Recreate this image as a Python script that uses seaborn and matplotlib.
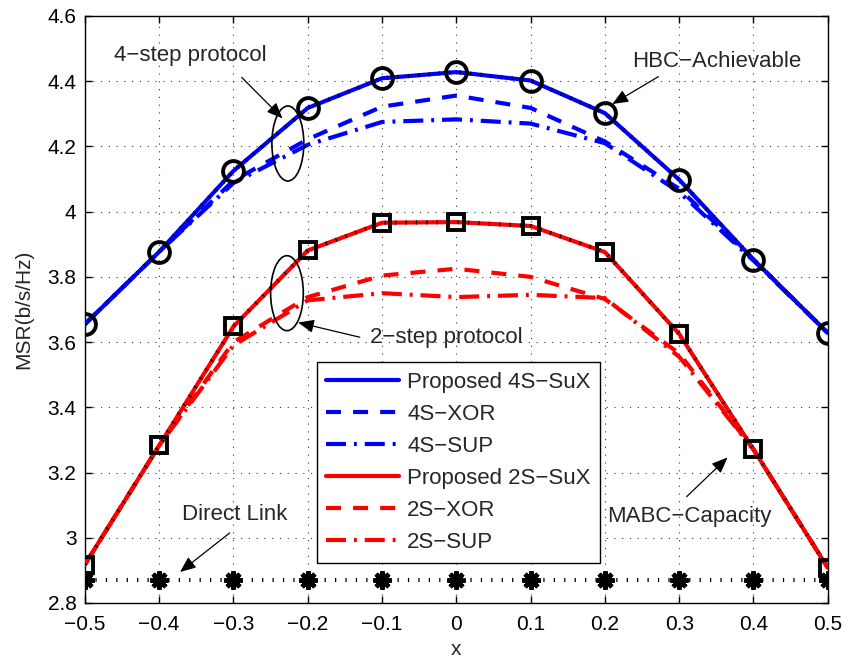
import numpy as np
import pandas as pd
import matplotlib
matplotlib.use("Agg")
import matplotlib.pyplot as plt
from matplotlib.patches import Ellipse
import seaborn as sns

# ---- data -------------------------------------------------------------
x_vals = [-0.5, -0.4, -0.3, -0.2, -0.1, 0.0, 0.1, 0.2, 0.3, 0.4, 0.5]

msr_4s_sux = [3.655, 3.877, 4.125, 4.318, 4.409, 4.428, 4.402, 4.302, 4.098, 3.853, 3.628]
msr_4s_xor = [3.655, 3.877, 4.095, 4.222, 4.322, 4.356, 4.318, 4.215, 4.070, 3.853, 3.628]
msr_4s_sup = [3.655, 3.877, 4.088, 4.205, 4.275, 4.283, 4.270, 4.210, 4.060, 3.850, 3.628]

msr_2s_sux = [2.918, 3.283, 3.648, 3.881, 3.966, 3.968, 3.956, 3.876, 3.625, 3.271, 2.908]
msr_2s_xor = [2.918, 3.283, 3.600, 3.738, 3.804, 3.825, 3.800, 3.732, 3.565, 3.271, 2.908]
msr_2s_sup = [2.918, 3.283, 3.590, 3.728, 3.750, 3.738, 3.745, 3.735, 3.555, 3.271, 2.908]

hbc_achievable = [3.655, 3.877, 4.125, 4.318, 4.409, 4.428, 4.402, 4.302, 4.098, 3.853, 3.628]
mabc_capacity = [2.918, 3.283, 3.648, 3.881, 3.966, 3.968, 3.956, 3.876, 3.625, 3.271, 2.908]
direct_link = [2.871] * 11

x_ticks = [-0.5, -0.4, -0.3, -0.2, -0.1, 0.0, 0.1, 0.2, 0.3, 0.4, 0.5]
y_ticks = [2.8, 3.0, 3.2, 3.4, 3.6, 3.8, 4.0, 4.2, 4.4, 4.6]

# ---- style ------------------------------------------------------------
sns.set_style("ticks")
plt.rcParams["font.family"] = ["Liberation Sans", "DejaVu Sans"]
plt.rcParams["axes.unicode_minus"] = True

fig = plt.figure(figsize=(8.49, 6.63), dpi=100)
ax = fig.add_axes([0.100, 0.0905, 0.875, 0.8854])

DASH = (0, (3.6, 2.9))
DASHDOT = (0, (4.8, 1.9, 0.7, 1.9))
DOTS = (0, (0.3, 2.2))
LW = 3.0

series = [
    (msr_4s_sux, "blue", "-", "Proposed 4S\u2212SuX"),
    (msr_4s_xor, "blue", DASH, "4S\u2212XOR"),
    (msr_4s_sup, "blue", DASHDOT, "4S\u2212SUP"),
    (msr_2s_sux, "red", "-", "Proposed 2S\u2212SuX"),
    (msr_2s_xor, "red", DASH, "2S\u2212XOR"),
    (msr_2s_sup, "red", DASHDOT, "2S\u2212SUP"),
]
for ys, col, ls, lab in series:
    df = pd.DataFrame({"x": x_vals, "y": ys})
    sns.lineplot(data=df, x="x", y="y", ax=ax, color=col, linestyle=ls,
                 linewidth=LW, label=lab, sort=False, zorder=3)

# reference bounds drawn as black dotted lines with markers
ref = [
    (hbc_achievable, "o", 15, 2.8),
    (mabc_capacity, "s", 12, 2.8),
]
for ys, mk, ms, mew in ref:
    df = pd.DataFrame({"x": x_vals, "y": ys})
    sns.lineplot(data=df, x="x", y="y", ax=ax, color="black",
                 linestyle=DOTS, linewidth=3.0, marker=mk,
                 markersize=ms, markerfacecolor="none", markeredgecolor="black",
                 markeredgewidth=mew, label="_nolegend_", sort=False, zorder=4)

df = pd.DataFrame({"x": x_vals, "y": direct_link})
sns.lineplot(data=df, x="x", y="y", ax=ax, color="black",
             linestyle=DOTS, linewidth=3.0, marker=(8, 2, 0),
             markersize=13, markeredgecolor="black", markeredgewidth=3.2,
             label="_nolegend_", sort=False, zorder=4)

# ---- axes -------------------------------------------------------------
ax.set_xlim(-0.5, 0.5)
ax.set_ylim(2.8, 4.6)
ax.set_xticks(x_ticks)
ax.set_yticks(y_ticks)
ax.set_xticklabels([f"{v:g}".replace("-", "\u2212") for v in x_ticks])
ax.set_yticklabels([f"{v:g}" for v in y_ticks])
ax.tick_params(direction="in", length=5, width=1, top=True, right=True,
               labelsize=15, colors="black")
ax.tick_params(axis="y", pad=6)
ax.tick_params(axis="x", pad=9)
for sp in ax.spines.values():
    sp.set_visible(True)
    sp.set_color("black")
    sp.set_linewidth(1.0)
ax.grid(True, color="black", linestyle=(0, (1, 6)), linewidth=0.8, alpha=0.8)
ax.set_axisbelow(True)
ax.set_xlabel("x", fontsize=15, labelpad=4)
ax.set_ylabel("MSR(b/s/Hz)", fontsize=15, labelpad=10)

# ---- annotations ------------------------------------------------------
TXT = 16
arrow = dict(arrowstyle="-|>,head_length=0.6,head_width=0.25",
             mutation_scale=16, lw=0.9, color="black", shrinkA=0, shrinkB=0)

ax.add_patch(Ellipse((-0.2268, 4.209), 0.043, 0.23, fill=False,
                     edgecolor="black", lw=1.2, zorder=5))
ax.add_patch(Ellipse((-0.228, 3.75), 0.044, 0.23, fill=False,
                     edgecolor="black", lw=1.2, zorder=5))

ax.text(-0.358, 4.478, "4\u2212step protocol", fontsize=TXT, ha="center", va="center")
ax.annotate("", xy=(-0.234, 4.286), xytext=(-0.289, 4.412), arrowprops=arrow)

ax.text(0.35, 4.46, "HBC\u2212Achievable", fontsize=TXT, ha="center", va="center")
ax.annotate("", xy=(0.21, 4.33), xytext=(0.272, 4.414), arrowprops=arrow)

ax.text(-0.014, 3.615, "2\u2212step protocol", fontsize=TXT, ha="center", va="center")
ax.annotate("", xy=(-0.213, 3.66), xytext=(-0.13, 3.615), arrowprops=arrow)

ax.text(0.313, 3.065, "MABC\u2212Capacity", fontsize=TXT, ha="center", va="center")
ax.annotate("", xy=(0.365, 3.246), xytext=(0.31, 3.126), arrowprops=arrow)

ax.text(-0.299, 3.07, "Direct Link", fontsize=TXT, ha="center", va="center")
ax.annotate("", xy=(-0.372, 2.895), xytext=(-0.305, 3.015), arrowprops=arrow)

# ---- legend -----------------------------------------------------------
leg = ax.legend(loc="upper left", bbox_to_anchor=(0.312, 0.41), fontsize=TXT,
                frameon=True, fancybox=False, framealpha=1, edgecolor="black",
                handlelength=3.3, handletextpad=0.35, labelspacing=0.5,
                borderpad=0.42, borderaxespad=0)
leg.get_frame().set_linewidth(1.0)
leg.set_zorder(6)

fig.savefig("out.png", dpi=100)
